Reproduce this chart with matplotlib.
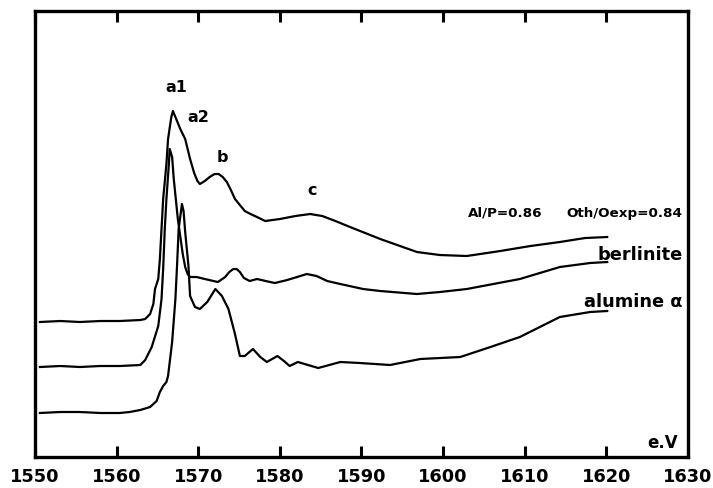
import matplotlib
matplotlib.use('Agg')
import matplotlib.pyplot as plt

plt.rcParams['font.family'] = ['DejaVu Sans']

# spectre du haut (Al/P=0.86)
ev_top = [1550.6, 1553.1, 1555.5, 1558.0, 1560.4, 1562.9, 1563.5, 1564.1, 1564.5, 1564.7,
          1565.1, 1565.3, 1565.7, 1566.1, 1566.3, 1566.7, 1566.9, 1567.3, 1567.8, 1568.4,
          1569.0, 1569.5, 1569.9, 1570.2, 1570.8, 1571.4, 1572.0, 1572.5, 1573.0, 1573.5,
          1574.0, 1574.5, 1575.1, 1575.7, 1576.4, 1577.2, 1578.2, 1580.0, 1581.9, 1583.7,
          1585.2, 1586.8, 1588.6, 1592.3, 1596.8, 1599.6, 1602.9, 1607.0, 1610.7, 1614.3,
          1617.4, 1620.1]
i_top = [1.35, 1.36, 1.35, 1.36, 1.36, 1.37, 1.38, 1.43, 1.53, 1.68,
         1.78, 1.98, 2.58, 2.93, 3.18, 3.40, 3.46, 3.38, 3.28, 3.18,
         2.98, 2.84, 2.76, 2.73, 2.76, 2.80, 2.83, 2.83, 2.80, 2.75,
         2.67, 2.58, 2.52, 2.46, 2.43, 2.40, 2.36, 2.38, 2.41, 2.43,
         2.41, 2.36, 2.30, 2.18, 2.05, 2.02, 2.01, 2.06, 2.11, 2.15,
         2.19, 2.20]

# berlinite
ev_berl = [1550.6, 1553.1, 1555.5, 1558.0, 1560.4, 1562.9, 1563.5, 1564.3, 1565.1, 1565.5,
           1565.7, 1565.9, 1566.1, 1566.4, 1566.5, 1566.8, 1567.0, 1567.5, 1568.1, 1568.4,
           1568.7, 1569.0, 1569.8, 1570.8, 1572.4, 1573.3, 1573.8, 1574.3, 1574.7, 1575.1,
           1575.6, 1576.3, 1577.2, 1578.8, 1579.4, 1580.9, 1582.1, 1583.3, 1584.5, 1585.8,
           1587.4, 1590.2, 1592.3, 1596.8, 1599.6, 1602.9, 1609.4, 1614.3, 1618.0, 1620.1]
i_berl = [0.90, 0.91, 0.90, 0.91, 0.91, 0.92, 0.97, 1.10, 1.31, 1.58,
          1.88, 2.28, 2.58, 2.93, 3.08, 3.00, 2.78, 2.38, 2.03, 1.90,
          1.83, 1.80, 1.80, 1.78, 1.75, 1.80, 1.85, 1.88, 1.88, 1.85,
          1.79, 1.76, 1.78, 1.75, 1.74, 1.77, 1.80, 1.83, 1.81, 1.76,
          1.73, 1.68, 1.66, 1.63, 1.65, 1.68, 1.78, 1.90, 1.94, 1.95]

# alumine alpha
ev_alu = [1550.6, 1553.1, 1555.5, 1558.0, 1560.4, 1561.6, 1562.9, 1564.1, 1564.9, 1565.3,
          1565.7, 1566.1, 1566.3, 1566.8, 1567.2, 1567.4, 1567.6, 1568.0, 1568.2, 1568.4,
          1568.8, 1569.0, 1569.6, 1570.2, 1571.1, 1572.1, 1572.9, 1573.7, 1574.5, 1575.1,
          1575.7, 1576.7, 1577.6, 1578.4, 1579.7, 1580.5, 1581.2, 1582.2, 1584.7, 1587.4,
          1589.8, 1593.5, 1597.2, 1602.1, 1605.8, 1609.4, 1614.3, 1618.0, 1620.1]
i_alu = [0.44, 0.45, 0.45, 0.44, 0.44, 0.45, 0.47, 0.50, 0.56, 0.65,
         0.71, 0.75, 0.81, 1.15, 1.58, 1.91, 2.28, 2.53, 2.46, 2.25,
         1.91, 1.61, 1.50, 1.48, 1.55, 1.68, 1.61, 1.48, 1.23, 1.01,
         1.01, 1.08, 1.00, 0.95, 1.01, 0.96, 0.91, 0.95, 0.89, 0.95,
         0.94, 0.92, 0.98, 1.00, 1.10, 1.20, 1.40, 1.45, 1.46]

xticks = [1550, 1560, 1570, 1580, 1590, 1600, 1610, 1620, 1630]

fig = plt.figure(figsize=(7.13, 4.89), dpi=100)
ax = fig.add_axes([0.0491, 0.0634, 0.9158, 0.912])

for ev, inten in [(ev_top, i_top), (ev_berl, i_berl), (ev_alu, i_alu)]:
    ax.plot(ev, inten, color='black', lw=1.6, solid_joinstyle='round')

ax.set_xlim(1550, 1630)
ax.set_ylim(0, 4.46)
ax.set_xticks(xticks)
ax.set_xticklabels([str(t) for t in xticks], fontsize=12.8, fontweight='bold')
ax.set_yticks([])
ax.tick_params(axis='x', direction='in', length=8, width=2.2, top=True, pad=7)
for s in ax.spines.values():
    s.set_linewidth(2.4)

# annotations
ax.text(1567.3, 3.71, 'a1', fontsize=11.5, fontweight='bold', ha='center', va='center')
ax.text(1570.0, 3.41, 'a2', fontsize=11.5, fontweight='bold', ha='center', va='center')
ax.text(1572.9, 3.01, 'b', fontsize=11.5, fontweight='bold', ha='center', va='center')
ax.text(1583.9, 2.68, 'c', fontsize=11.5, fontweight='bold', ha='center', va='center')
ax.text(1607.6, 2.45, 'Al/P=0.86', fontsize=9.7, fontweight='bold', ha='center', va='center')
ax.text(1629.3, 2.45, 'Oth/Oexp=0.84', fontsize=9.7, fontweight='bold', ha='right', va='center')
ax.text(1629.3, 2.03, 'berlinite', fontsize=12.8, fontweight='bold', ha='right', va='center')
ax.text(1629.3, 1.56, 'alumine α', fontsize=12.8, fontweight='bold', ha='right', va='center')
ax.text(1628.8, 0.15, 'e.V', fontsize=12, fontweight='bold', ha='right', va='center')

fig.savefig('out.png', dpi=100)
